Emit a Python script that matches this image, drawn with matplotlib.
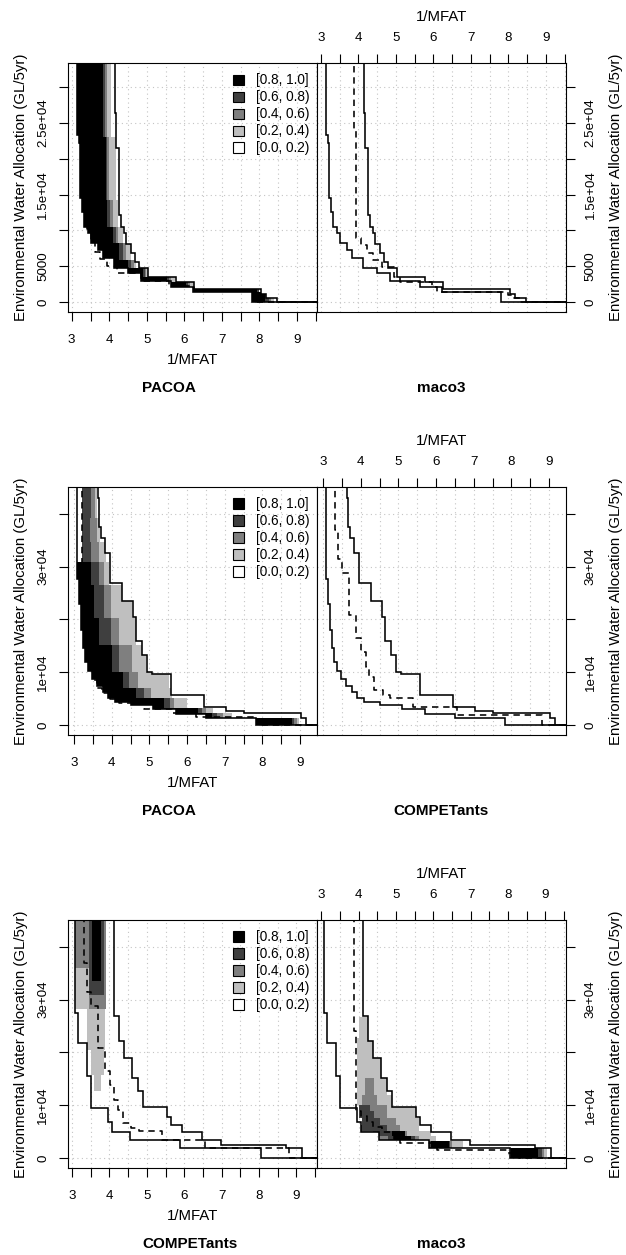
import numpy as np
import matplotlib
matplotlib.use("Agg")
import matplotlib.pyplot as plt
from matplotlib.patches import Polygon, Patch
from matplotlib.ticker import FixedLocator, FixedFormatter

plt.rcParams['font.family'] = ['Liberation Sans', 'DejaVu Sans']

# ---------------- data ----------------
level_labels = ["[0.8, 1.0]", "[0.6, 0.8)", "[0.4, 0.6)", "[0.2, 0.4)", "[0.0, 0.2)"]
level_colors = ["#000000", "#3f3f3f", "#7f7f7f", "#bfbfbf", "#ffffff"]

x_ticks = [3, 3.5, 4, 4.5, 5, 5.5, 6, 6.5, 7, 7.5, 8, 8.5, 9, 9.5]
x_ticklabels = ["3", "", "4", "", "5", "", "6", "", "7", "", "8", "", "9", ""]
r1_yticks = [0, 5000, 10000, 15000, 20000, 25000, 30000]
r1_yticklabels = ["0", "5000", "", "1.5e+04", "", "2.5e+04", ""]
r23_yticks = [0, 10000, 20000, 30000, 40000]
r23_yticklabels = ["0", "1e+04", "", "3e+04", ""]

# median attainment surfaces of each algorithm (1/MFAT, allocation)
pacoa_med_x = [3.20, 3.24, 3.28, 3.33, 3.40, 3.50, 3.62, 3.75, 3.95, 4.20, 4.85, 5.60, 6.25, 7.85]
pacoa_med_y = [24000, 20000, 15500, 12500, 10200, 8500, 7000, 6000, 5000, 4100, 3000, 2200, 1500, 0]
maco3_med_x = [3.89, 3.94, 4.07, 4.23, 4.40, 4.63, 4.94, 5.12, 5.96, 6.09, 8.00, 8.14, 8.30]
maco3_med_y = [24030, 8900, 7960, 6800, 5870, 4930, 3540, 2840, 2140, 1440, 1000, 500, 0]
compet_med_x = [3.33, 3.39, 3.51, 3.70, 3.88, 4.02, 4.13, 4.22, 4.35, 4.58, 4.79, 5.40, 6.56, 8.80]
compet_med_y = [37000, 31500, 28850, 20800, 16500, 13800, 11000, 9000, 6600, 5600, 5100, 3400, 1850, 0]

# row 1: PACOA vs maco3, grand best / worst
r1_best_x = [3.15, 3.19, 3.22, 3.27, 3.33, 3.42, 3.50, 3.70, 3.84, 4.12, 4.50, 4.85, 5.65, 6.23, 7.80]
r1_best_y = [23400, 22200, 14600, 12600, 10500, 9600, 8300, 7300, 6100, 4800, 4000, 3000, 2100, 1440, 0]
r1_worst_x = [4.15, 4.18, 4.26, 4.32, 4.40, 4.45, 4.57, 4.69, 4.80, 5.03, 5.78, 6.25, 8.05, 8.18, 8.48]
r1_worst_y = [26360, 21470, 12100, 10500, 9700, 8100, 6800, 5600, 4800, 3450, 2800, 1800, 1100, 500, 0]
# row 1 differences (PACOA better), bands top-down
r1_band_y = [50000, 23100, 14250, 10520, 8200, 5870, 4700, 3540, 2840, 2140, 1440, 0]
r1_black = [3.82, 3.90, 3.95, 4.09, 4.27, 4.50, 4.90, 5.55, 6.05, 7.95, 8.15]
r1_dark = [3.88, 3.95, 4.02, 4.18, 4.36, 4.58, 4.95, 5.60, 6.10, 8.00, 8.25]
r1_gray = [3.95, 4.00, 4.10, 4.22, 4.45, 4.65, 4.98, 5.65, 6.15, 8.00, 8.32]
r1_light = [4.05, 4.18, 4.22, 4.36, 4.58, 4.72, 5.02, 5.75, 6.25, 8.00, 8.40]

# row 2: PACOA vs COMPETants
r2_best_x = [3.09, 3.13, 3.18, 3.24, 3.30, 3.38, 3.47, 3.62, 3.76, 3.90, 4.10, 4.50, 5.10, 5.70, 6.50, 7.82]
r2_best_y = [27700, 23000, 18000, 14500, 12000, 10300, 8800, 7300, 6200, 5100, 4400, 3700, 3100, 2000, 1300, 0]
r2_worst_x = [3.63, 3.67, 3.72, 3.82, 3.96, 4.27, 4.56, 4.64, 4.80, 4.94, 5.08, 5.58, 6.45, 7.04, 7.52, 9.02, 9.15]
r2_worst_y = [43000, 37600, 35500, 32500, 27000, 23500, 20500, 16000, 13300, 10000, 9700, 5600, 3500, 2700, 2200, 1300, 0]
r2_band_y = [50000, 39180, 34760, 30970, 26540, 20220, 15170, 10110, 6950, 5060, 3160, 2200, 1300, 0]
r2_start = [3.22, 3.22, 3.22, 2.5, 2.5, 2.5, 2.5, 2.5, 2.5, 2.5, 2.5, 2.5, 2.5]
r2_black = [3.0, 3.0, 3.0, 3.45, 3.54, 3.67, 4.02, 4.30, 4.65, 5.40, 6.30, 6.67, 8.79]
r2_dark = [3.45, 3.42, 3.45, 3.67, 3.80, 3.98, 4.20, 4.45, 4.85, 5.55, 6.40, 6.80, 8.85]
r2_gray = [3.55, 3.62, 3.67, 3.80, 3.98, 4.20, 4.55, 4.70, 5.05, 5.65, 6.50, 6.95, 8.92]
r2_light = [3.62, 3.70, 3.85, 3.93, 4.55, 4.64, 4.90, 5.52, 5.60, 6.00, 6.70, 7.20, 8.97]

# row 3: COMPETants vs maco3
r3_best_x = [3.08, 3.17, 3.41, 3.50, 3.96, 4.06, 4.55, 5.89, 8.05]
r3_best_y = [27500, 21700, 15600, 9550, 6900, 5000, 3400, 1830, 0]
r3_worst_x = [4.13, 4.25, 4.40, 4.59, 4.75, 4.89, 5.55, 5.64, 5.94, 6.48, 6.97, 8.72, 9.16]
r3_worst_y = [27000, 22120, 18900, 15110, 12640, 9650, 7700, 6300, 4990, 3410, 2460, 1830, 0]
# COMPETants better (left), bands with start / end per band
r3l_band_y = [50000, 36030, 33500, 30970, 28300, 20540, 15800, 12640]
r3l_black = ([3.52, 3.52, 3.0, 3.0, 3.0, 3.0, 3.0], [3.78, 3.78, 3.0, 3.0, 3.0, 3.0, 3.0])
r3l_dark = ([3.46, 3.46, 3.46, 3.0, 3.0, 3.0, 3.0], [3.86, 3.86, 3.86, 3.0, 3.0, 3.0, 3.0])
r3l_gray = ([3.0, 3.46, 3.46, 3.46, 3.0, 3.0, 3.0], [3.90, 3.90, 3.90, 3.90, 3.0, 3.0, 3.0])
r3l_light = ([3.0, 3.0, 3.0, 3.0, 3.40, 3.50, 3.59], [3.90, 3.90, 3.90, 3.90, 3.88, 3.86, 3.77])
# maco3 better (right)
r3r_band_y = [26800, 22750, 18960, 15170, 12010, 10110, 8850, 7580, 6320, 5060, 4110, 3160, 1900, 0]
r3r_black = ([3.0] * 9 + [4.90, 4.95, 5.93, 8.08], [3.0] * 9 + [5.25, 5.40, 6.42, 8.80])
r3r_dark = ([3.0] * 5 + [4.00, 4.00, 4.09, 3.0, 4.40, 4.80, 5.80, 8.00],
            [3.0] * 5 + [4.32, 4.41, 4.58, 4.76, 5.20, 5.50, 6.45, 8.90])
r3r_gray = ([3.0, 3.0, 3.0, 4.18, 4.09, 4.00, 4.00, 4.09, 3.0, 3.0, 3.0, 3.0, 3.0],
            [3.0, 3.0, 3.0, 4.41, 4.50, 4.76, 4.76, 4.99, 5.12, 5.30, 5.62, 6.50, 8.95])
r3r_light = ([4.00, 3.96, 3.96, 3.96, 3.96, 4.00, 4.00, 4.09, 3.0, 3.0, 3.0, 3.0, 3.0],
             [4.28, 4.50, 4.67, 4.76, 4.99, 5.53, 5.53, 5.62, 5.62, 5.93, 6.06, 6.80, 9.05])

# ---------------- layout (pixels) ----------------
W, H = 626, 1255
fig = plt.figure(figsize=(W / 100, H / 100), dpi=100)

rows = [
    dict(top=63, bot=312, xlim=(2.90, 9.54), ylim=(-1400, 33400),
         yticks=r1_yticks, ylabels=r1_yticklabels, names=("PACOA", "maco3")),
    dict(top=487, bot=735, xlim=(2.84, 9.45), ylim=(-1900, 45100),
         yticks=r23_yticks, ylabels=r23_yticklabels, names=("PACOA", "COMPETants")),
    dict(top=920, bot=1168, xlim=(2.89, 9.55), ylim=(-1900, 45100),
         yticks=r23_yticks, ylabels=r23_yticklabels, names=("COMPETants", "maco3")),
]
LX0, MX, RX1 = 68, 317, 566


def stair(xs, ys, top=1e6, right=100.0):
    vx, vy = [xs[0]], [top]
    for i in range(len(xs)):
        vx += [xs[i], xs[i + 1] if i + 1 < len(xs) else right]
        vy += [ys[i], ys[i]]
    return np.array(vx), np.array(vy)


def between(ax, best, worst):
    bx, by = stair(*best)
    wx, wy = stair(*worst)
    verts = np.column_stack([np.r_[bx, wx[::-1]], np.r_[by, wy[::-1]]])
    return Polygon(verts, closed=True, transform=ax.transData)


def fill_levels(ax, band_y, levels, clip, start=None):
    ya = np.asarray(band_y, float)[::-1]
    n = len(band_y) - 1
    for color, lev in levels:
        if isinstance(lev, tuple):
            x0, x1 = lev
        else:
            x0, x1 = (start if start is not None else [2.5] * n), lev
        x0 = np.asarray(x0, float)[::-1]
        x1 = np.maximum(np.asarray(x1, float)[::-1], x0)
        c = ax.fill_betweenx(ya, np.r_[x0, x0[-1]], np.r_[x1, x1[-1]], step='post',
                             facecolor=color, edgecolor='none', linewidth=0, zorder=1)
        c.set_clip_path(clip)


def draw_line(ax, xs, ys, dashed=False):
    vx, vy = stair(xs, ys)
    ax.plot(vx, vy, color='black', lw=1.15, zorder=3,
            ls=(0, (4, 3)) if dashed else '-', solid_joinstyle='miter')


row_best = [(r1_best_x, r1_best_y), (r2_best_x, r2_best_y), (r3_best_x, r3_best_y)]
row_worst = [(r1_worst_x, r1_worst_y), (r2_worst_x, r2_worst_y), (r3_worst_x, r3_worst_y)]
row_meds = [((pacoa_med_x, pacoa_med_y), (maco3_med_x, maco3_med_y)),
            ((pacoa_med_x, pacoa_med_y), (compet_med_x, compet_med_y)),
            ((compet_med_x, compet_med_y), (maco3_med_x, maco3_med_y))]

for r, row in enumerate(rows):
    h = row['bot'] - row['top']
    b = 1 - row['bot'] / H
    axl = fig.add_axes([LX0 / W, b, (MX - LX0) / W, h / H])
    axr = fig.add_axes([MX / W, b, (RX1 - MX) / W, h / H])
    for k, ax in enumerate((axl, axr)):
        ax.set_xlim(*row['xlim'])
        ax.set_ylim(*row['ylim'])
        ax.xaxis.set_major_locator(FixedLocator(x_ticks))
        ax.xaxis.set_major_formatter(FixedFormatter(x_ticklabels))
        ax.yaxis.set_major_locator(FixedLocator(row['yticks']))
        ax.yaxis.set_major_formatter(FixedFormatter(row['ylabels']))
        ax.grid(True, ls=(0, (1, 3)), color='#c4c4c4', lw=0.8, zorder=0)
        ax.set_axisbelow(True)
        for s in ax.spines.values():
            s.set_linewidth(0.8)
            s.set_color('black')
        ax.tick_params(axis='both', length=6.5, width=0.8, labelsize=9.6, color='black')
        ax.tick_params(axis='x', pad=9)
        ax.tick_params(axis='y', pad=7)
        clip = between(ax, row_best[r], row_worst[r])
        if r < 2 and k == 0:
            band_y = r1_band_y if r == 0 else r2_band_y
            levs = [r1_light, r1_gray, r1_dark, r1_black] if r == 0 else \
                   [r2_light, r2_gray, r2_dark, r2_black]
            fill_levels(ax, band_y, list(zip(level_colors[3::-1], levs)), clip,
                        start=None if r == 0 else r2_start)
        if r == 2:
            band_y = r3l_band_y if k == 0 else r3r_band_y
            levs = [r3l_light, r3l_gray, r3l_dark, r3l_black] if k == 0 else \
                   [r3r_light, r3r_gray, r3r_dark, r3r_black]
            fill_levels(ax, band_y, list(zip(level_colors[3::-1], levs)), clip)
        draw_line(ax, *row_best[r])
        draw_line(ax, *row_worst[r])
        draw_line(ax, *row_meds[r][k], dashed=True)

    axl.tick_params(top=False, right=False, labeltop=False, labelright=False)
    axr.xaxis.tick_top()
    axr.yaxis.tick_right()
    axr.tick_params(bottom=False, left=False, labelbottom=False, labelleft=False)
    axr.tick_params(axis='x', pad=7.5)
    for ax in (axl, axr):
        for lab in ax.get_yticklabels():
            lab.set_rotation(90)
            lab.set_va('center')

    handles = [Patch(facecolor=c, edgecolor='black', lw=0.8) for c in level_colors]
    axl.legend(handles, level_labels, loc='upper right', bbox_to_anchor=(0.97, 0.958),
               frameon=False, fontsize=9.8, handlelength=0.8, handleheight=0.8,
               handletextpad=0.9, labelspacing=0.22, borderpad=0, borderaxespad=0)

    cy = 1 - (row['top'] + row['bot']) / 2 / H
    ylab = "Environmental Water Allocation (GL/5yr)"
    fig.text(21.5 / W, cy, ylab, rotation=90, ha='center', va='center', fontsize=10.8)
    fig.text(616 / W, cy, ylab, rotation=90, ha='center', va='center', fontsize=10.8)
    fig.text((LX0 + MX) / 2 / W, 1 - (row['bot'] + 48) / H, "1/MFAT",
             ha='center', va='center', fontsize=10.8)
    fig.text((MX + RX1) / 2 / W, 1 - (row['top'] - 46) / H, "1/MFAT",
             ha='center', va='center', fontsize=10.8)
    fig.text(142 / W, 1 - (row['bot'] + 76) / H, row['names'][0],
             ha='left', va='center', fontsize=11, fontweight='bold')
    fig.text((MX + RX1) / 2 / W, 1 - (row['bot'] + 76) / H, row['names'][1],
             ha='center', va='center', fontsize=11, fontweight='bold')

fig.savefig("out.png", dpi=100)
